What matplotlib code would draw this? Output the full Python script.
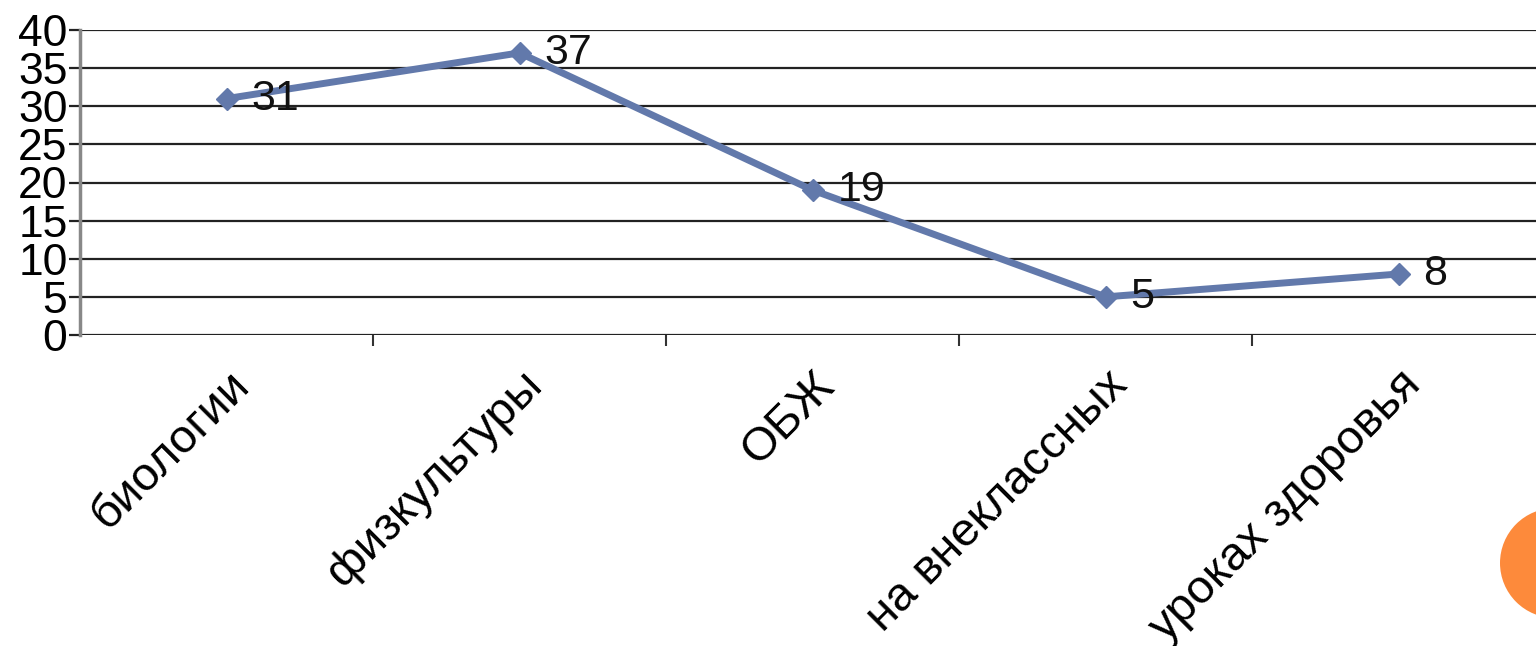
import matplotlib
matplotlib.use("Agg")
import matplotlib.pyplot as plt
from matplotlib.patches import Circle

# data
categories = ["биологии", "физкультуры", "ОБЖ", "на внеклассных", "уроках здоровья"]
values = [31, 37, 19, 5, 8]
y_ticks = [0, 5, 10, 15, 20, 25, 30, 35, 40]

plt.rcParams['font.family'] = ['Liberation Sans', 'DejaVu Sans']

fig = plt.figure(figsize=(15.36, 6.46), dpi=100)
# axes runs a bit past the right edge, like the slide screenshot
ax = fig.add_axes([80/1536, (646-335)/646, 1465/1536, 305/646])

x = list(range(len(categories)))
ax.plot(x, values, color='#6279ab', lw=5, marker='D', ms=11,
        markerfacecolor='#6279ab', markeredgecolor='#6279ab', zorder=3)

for xi, v in zip(x, values):
    ax.annotate(str(v), (xi, v), xytext=(18, 0), textcoords='offset points',
                va='center', ha='left', fontsize=31, color='#111111')

ax.set_xlim(-0.5, len(categories) - 0.5)
ax.set_ylim(0, 40)
ax.set_yticks(y_ticks)
ax.set_yticklabels([str(t) for t in y_ticks], fontsize=32)
ax.yaxis.grid(True, color='#222222', lw=1.6)
ax.set_axisbelow(True)

ax.set_xticks(x)
ax.set_xticklabels(categories, rotation=45, ha='right', rotation_mode='anchor', fontsize=34)
ax.set_xticks([i + 0.5 for i in x[:-1]], minor=True)
ax.tick_params(axis='x', which='major', length=0, pad=20)
ax.tick_params(axis='x', which='minor', length=8, width=1.5, color='#333333')
ax.tick_params(axis='y', length=8, width=1.6, color='#222222', pad=1)

for s in ['top', 'right', 'bottom']:
    ax.spines[s].set_visible(False)
ax.spines['left'].set_color('#888888')
ax.spines['left'].set_linewidth(2.5)

# orange decoration circle of the slide, bottom right (inches from lower left)
dot = Circle((15.55, 0.83), 0.55, transform=fig.dpi_scale_trans,
             facecolor='#fd8a3b', edgecolor='none')
fig.patches.append(dot)

fig.savefig("out.png", dpi=100)
